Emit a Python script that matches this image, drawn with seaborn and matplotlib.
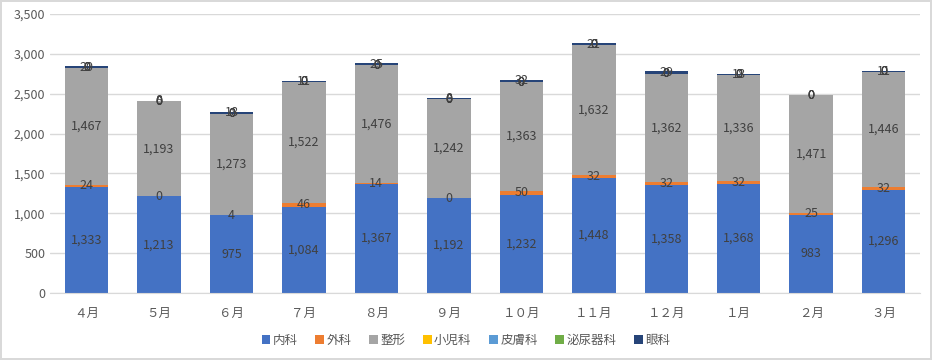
import numpy as np
import matplotlib
matplotlib.use("Agg")
import matplotlib.pyplot as plt
import seaborn as sns

sns.set_style("white")
plt.rcParams['font.family'] = ['Noto Sans CJK JP', 'DejaVu Sans']

# ---------- data ----------
months = ["４月", "５月", "６月", "７月", "８月", "９月", "１０月", "１１月", "１２月", "１月", "２月", "３月"]
depts = ["内科", "外科", "整形", "小児科", "皮膚科", "泌尿器科", "眼科"]
naika = [1333, 1213, 975, 1084, 1367, 1192, 1232, 1448, 1358, 1368, 983, 1296]
geka = [24, 0, 4, 46, 14, 0, 50, 32, 32, 32, 25, 32]
seikei = [1467, 1193, 1273, 1522, 1476, 1242, 1363, 1632, 1362, 1336, 1471, 1446]
shoni = [0] * 12
hifu = [0] * 12
hinyo = [0] * 12
ganka = [20, 8, 18, 11, 25, 8, 32, 21, 29, 18, 0, 11]
series = [naika, geka, seikei, shoni, hifu, hinyo, ganka]
colors = ["#4472C4", "#ED7D31", "#A5A5A5", "#FFC000", "#5B9BD5", "#70AD47", "#264478"]

# ---------- plot ----------
fig = plt.figure(figsize=(9.32, 3.6), dpi=100)
fig.patch.set_edgecolor("#D9D9D9")
fig.patch.set_linewidth(1.5)
ax = fig.add_axes([0.054, 0.186, 0.933, 0.775])

bottom = np.zeros(len(months))
for name, vals, c in zip(depts, series, colors):
    sns.barplot(x=months, y=vals, bottom=bottom, color=c, width=0.6,
                label=name, ax=ax, saturation=1, errorbar=None, linewidth=0)
    cont = ax.containers[-1]
    ax.bar_label(cont, labels=[f"{v:,}" for v in vals], label_type="center",
                 fontsize=9, color="#404040")
    bottom = bottom + np.array(vals)

if ax.get_legend() is not None:
    ax.get_legend().remove()

ax.set_ylim(0, 3500)
ax.set_yticks(range(0, 3501, 500))
ax.set_yticklabels([f"{v:,}" for v in range(0, 3501, 500)])
ax.set_xlim(-0.5, len(months) - 0.5)
ax.yaxis.grid(True, color="#D9D9D9", linewidth=1)
ax.set_axisbelow(True)
for s in ["top", "right", "left"]:
    ax.spines[s].set_visible(False)
ax.spines["bottom"].set_color("#D9D9D9")
ax.tick_params(axis="both", length=0, labelsize=9, labelcolor="#595959")
ax.tick_params(axis="x", pad=10)
ax.set_xlabel("")
ax.set_ylabel("")

handles, labels = ax.get_legend_handles_labels()
fig.legend(handles, labels, loc="center", bbox_to_anchor=(0.5, 0.055), ncol=7,
           frameon=False, fontsize=9, handlelength=0.7, handleheight=0.7,
           handletextpad=0.2, columnspacing=1.4, labelcolor="#595959")

plt.savefig("out.png", dpi=100)
